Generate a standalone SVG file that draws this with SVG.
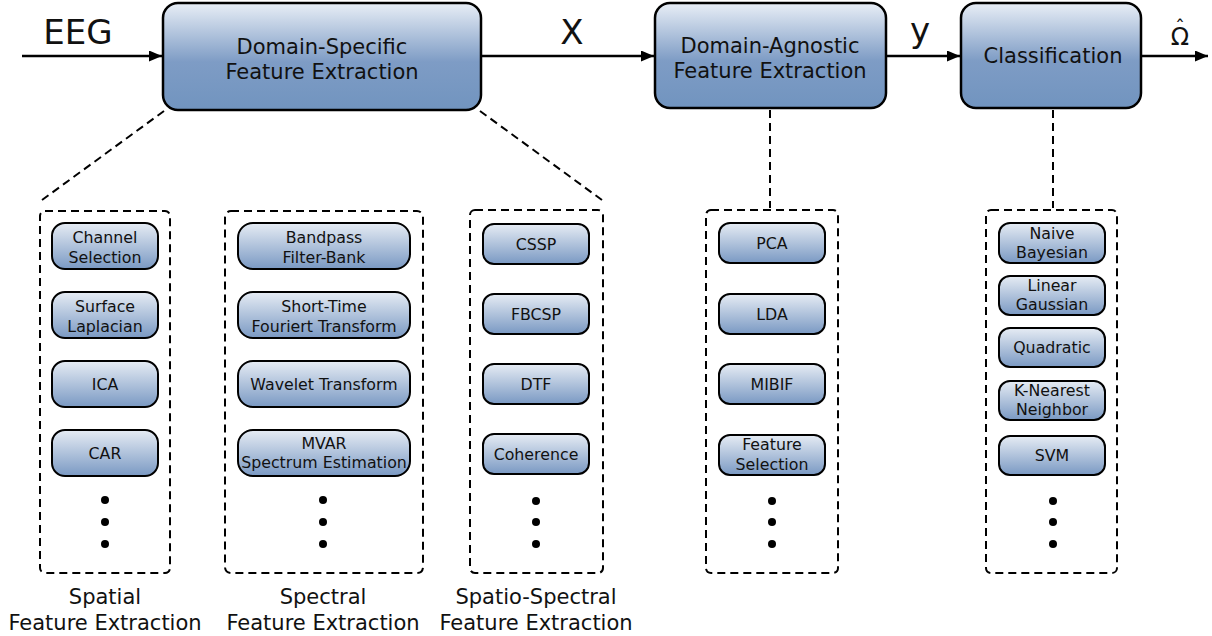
<svg xmlns="http://www.w3.org/2000/svg" width="1212" height="636" viewBox="0 0 1212 636">
<defs>
<linearGradient id="gBig" x1="0" y1="0" x2="0" y2="1">
<stop offset="0" stop-color="#e8eef6"/>
<stop offset="0.55" stop-color="#7e9cc5"/>
<stop offset="1" stop-color="#7194bf"/>
</linearGradient>
<linearGradient id="gSmall" x1="0" y1="0" x2="0" y2="1">
<stop offset="0" stop-color="#e6ecf4"/>
<stop offset="1" stop-color="#7a99c3"/>
</linearGradient>
<marker id="arr" viewBox="0 0 13 11" refX="13" refY="5.5" markerWidth="13" markerHeight="11" markerUnits="userSpaceOnUse" orient="auto">
<path d="M0,0 L13,5.5 L0,11 Z" fill="#000"/>
</marker>
<style>
text{font-family:"DejaVu Sans","Liberation Sans",sans-serif;fill:#111;text-anchor:middle}
.big{fill:url(#gBig);stroke:#000;stroke-width:2.5}
.sm{fill:url(#gSmall);stroke:#000;stroke-width:2}
.t21{font-size:21px}
.t15{font-size:15.8px}
.t34{font-size:34px}
.dash{fill:none;stroke:#000;stroke-width:2;stroke-dasharray:8,5}
.flow{stroke:#000;stroke-width:2.5;fill:none}
.dot{fill:#000}
</style>
</defs>

<g id="connectors">
<line class="flow" x1="22" y1="56" x2="162" y2="56" marker-end="url(#arr)"/>
<line class="flow" x1="481" y1="56" x2="654" y2="56" marker-end="url(#arr)"/>
<line class="flow" x1="886" y1="56" x2="960" y2="56" marker-end="url(#arr)"/>
<line class="flow" x1="1141" y1="56" x2="1208" y2="56" marker-end="url(#arr)"/>
<line class="dash" x1="164" y1="111" x2="42" y2="200"/>
<line class="dash" x1="480" y1="111" x2="602" y2="200"/>
<line class="dash" x1="770" y1="110" x2="770" y2="208"/>
<line class="dash" x1="1053" y1="110" x2="1053" y2="208"/>
</g>

<g id="labels">
<text class="t34" x="78" y="44">EEG</text>
<text class="t34" x="572" y="44">X</text>
<text class="t34" x="920" y="42">y</text>
<text style="font-size:24px"><tspan x="1180" y="45">Ω</tspan><tspan x="1180" y="34" style="font-size:20px">ˆ</tspan></text>
</g>

<g id="dsfe">
<rect class="big" x="163" y="3" width="318" height="107" rx="15"/>
<text class="t21" x="322" y="54">Domain-Specific</text>
<text class="t21" x="322" y="79">Feature Extraction</text>
</g>
<g id="dafe">
<rect class="big" x="655" y="3" width="231" height="105" rx="15"/>
<text class="t21" x="770" y="53">Domain-Agnostic</text>
<text class="t21" x="770" y="78">Feature Extraction</text>
</g>
<g id="classification">
<rect class="big" x="961" y="3" width="180" height="105" rx="15"/>
<text class="t21" x="1053" y="63">Classification</text>
</g>

<g id="spatial">
<rect class="dash" x="40" y="211" width="130" height="362" rx="5"/>
<g id="channel-selection"><rect class="sm" x="52" y="223" width="106" height="46" rx="13"/><text class="t15" x="105" y="243">Channel</text><text class="t15" x="105" y="263">Selection</text></g>
<g id="surface-laplacian"><rect class="sm" x="52" y="292" width="106" height="46" rx="13"/><text class="t15" x="105" y="312">Surface</text><text class="t15" x="105" y="332">Laplacian</text></g>
<g id="ica"><rect class="sm" x="52" y="361" width="106" height="46" rx="13"/><text class="t15" x="105" y="390">ICA</text></g>
<g id="car"><rect class="sm" x="52" y="430" width="106" height="46" rx="13"/><text class="t15" x="105" y="459">CAR</text></g>
<circle class="dot" cx="105" cy="500" r="4"/><circle class="dot" cx="105" cy="522" r="4"/><circle class="dot" cx="105" cy="544" r="4"/>
<text class="t21" x="105" y="604">Spatial</text>
<text class="t21" x="105" y="630">Feature Extraction</text>
</g>

<g id="spectral">
<rect class="dash" x="225" y="211" width="198" height="362" rx="6"/>
<g id="bandpass"><rect class="sm" x="238" y="223" width="172" height="46" rx="15"/><text class="t15" x="324" y="243">Bandpass</text><text class="t15" x="324" y="263">Filter-Bank</text></g>
<g id="stft"><rect class="sm" x="238" y="292" width="172" height="46" rx="15"/><text class="t15" x="324" y="312">Short-Time</text><text class="t15" x="324" y="332">Fouriert Transform</text></g>
<g id="wavelet"><rect class="sm" x="238" y="361" width="172" height="46" rx="15"/><text class="t15" x="324" y="390">Wavelet Transform</text></g>
<g id="mvar"><rect class="sm" x="238" y="430" width="172" height="46" rx="15"/><text class="t15" x="324" y="449">MVAR</text><text class="t15" x="324" y="468">Spectrum Estimation</text></g>
<circle class="dot" cx="323" cy="500" r="4"/><circle class="dot" cx="323" cy="522" r="4"/><circle class="dot" cx="323" cy="544" r="4"/>
<text class="t21" x="323" y="604">Spectral</text>
<text class="t21" x="323" y="630">Feature Extraction</text>
</g>

<g id="spatio-spectral">
<rect class="dash" x="470" y="210" width="133" height="363" rx="5"/>
<g id="cssp"><rect class="sm" x="483" y="224" width="106" height="40" rx="11"/><text class="t15" x="536" y="250">CSSP</text></g>
<g id="fbcsp"><rect class="sm" x="483" y="294" width="106" height="40" rx="11"/><text class="t15" x="536" y="320">FBCSP</text></g>
<g id="dtf"><rect class="sm" x="483" y="364" width="106" height="40" rx="11"/><text class="t15" x="536" y="390">DTF</text></g>
<g id="coherence"><rect class="sm" x="483" y="434" width="106" height="40" rx="11"/><text class="t15" x="536" y="460">Coherence</text></g>
<circle class="dot" cx="536" cy="501" r="4"/><circle class="dot" cx="536" cy="522" r="4"/><circle class="dot" cx="536" cy="544" r="4"/>
<text class="t21" x="536" y="604">Spatio-Spectral</text>
<text class="t21" x="536" y="630">Feature Extraction</text>
</g>

<g id="agnostic">
<rect class="dash" x="706" y="210" width="132" height="363" rx="5"/>
<g id="pca"><rect class="sm" x="719" y="223" width="106" height="40" rx="11"/><text class="t15" x="772" y="249">PCA</text></g>
<g id="lda"><rect class="sm" x="719" y="294" width="106" height="40" rx="11"/><text class="t15" x="772" y="320">LDA</text></g>
<g id="mibif"><rect class="sm" x="719" y="364" width="106" height="40" rx="11"/><text class="t15" x="772" y="390">MIBIF</text></g>
<g id="feature-selection"><rect class="sm" x="719" y="435" width="106" height="40" rx="11"/><text class="t15" x="772" y="450">Feature</text><text class="t15" x="772" y="470">Selection</text></g>
<circle class="dot" cx="772" cy="501" r="4"/><circle class="dot" cx="772" cy="522" r="4"/><circle class="dot" cx="772" cy="544" r="4"/>
</g>

<g id="classifiers">
<rect class="dash" x="986" y="210" width="131" height="363" rx="5"/>
<g id="naive-bayesian"><rect class="sm" x="999" y="223" width="106" height="40" rx="11"/><text class="t15" x="1052" y="239">Naive</text><text class="t15" x="1052" y="258">Bayesian</text></g>
<g id="linear-gaussian"><rect class="sm" x="999" y="276" width="106" height="39" rx="11"/><text class="t15" x="1052" y="291">Linear</text><text class="t15" x="1052" y="310">Gaussian</text></g>
<g id="quadratic"><rect class="sm" x="999" y="328" width="106" height="39" rx="11"/><text class="t15" x="1052" y="353">Quadratic</text></g>
<g id="knn"><rect class="sm" x="999" y="381" width="106" height="39" rx="11"/><text class="t15" x="1052" y="396">K-Nearest</text><text class="t15" x="1052" y="415">Neighbor</text></g>
<g id="svm"><rect class="sm" x="999" y="436" width="106" height="39" rx="11"/><text class="t15" x="1052" y="461">SVM</text></g>
<circle class="dot" cx="1053" cy="501" r="4"/><circle class="dot" cx="1053" cy="522" r="4"/><circle class="dot" cx="1053" cy="544" r="4"/>
</g>
</svg>
